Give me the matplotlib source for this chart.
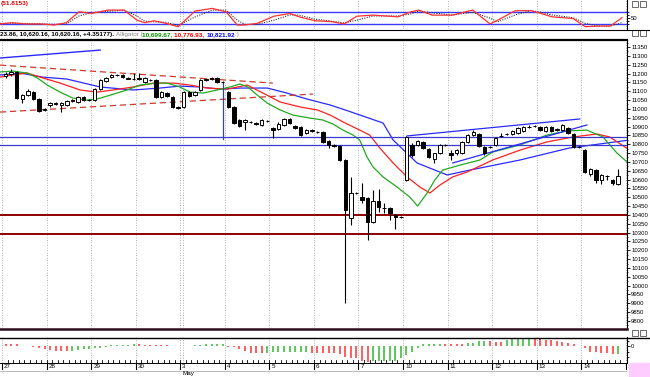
import matplotlib.pyplot as plt
from matplotlib.patches import Rectangle

W, H = 650, 377

# ---- hourly bars, 8 per session ----
opens = [11186, 11197, 11209, 11056, 11078, 11095, 11056, 10994, 11022, 11028,
         11022, 11022, 11045, 11039, 11067, 11050, 11050, 11112, 11158, 11180,
         11192, 11192, 11175, 11169, 11175, 11152, 11163, 11163, 11067, 11090,
         11067, 11011, 11011, 11095, 11078, 11107, 11163, 11175, 11175, 11152,
         11095, 11011, 10937, 10926, 10926, 10920, 10909, 10931, 10892, 10886,
         10909, 10943, 10903, 10897, 10863, 10875, 10869, 10869, 10818, 10796,
         10790, 10711, 10383, 10524, 10501, 10496, 10360, 10479, 10439, 10439,
         10400, 10388, 10598, 10796, 10796, 10813, 10773, 10716, 10750, 10796,
         10750, 10750, 10750, 10813, 10852, 10858, 10784, 10784, 10796, 10847,
         10858, 10858, 10863, 10875, 10897, 10903, 10897, 10875, 10897, 10880,
         10880, 10892, 10858, 10784, 10767, 10632, 10654, 10598, 10620, 10598,
         10575]
highs = [11209, 11226, 11214, 11084, 11112, 11101, 11061, 11005, 11039, 11039,
         11039, 11050, 11056, 11073, 11073, 11056, 11118, 11169, 11180, 11197,
         11197, 11197, 11180, 11203, 11203, 11180, 11169, 11169, 11101, 11095,
         11073, 11016, 11101, 11101, 11101, 11169, 11175, 11180, 11180, 11158,
         11101, 11016, 10943, 10943, 10931, 10926, 10943, 10937, 10897, 10926,
         10948, 10948, 10909, 10903, 10886, 10886, 10875, 10875, 10824, 10801,
         10796, 10716, 10615, 10530, 10581, 10501, 10541, 10547, 10467, 10445,
         10405, 10394, 10847, 10807, 10824, 10818, 10779, 10750, 10801, 10801,
         10767, 10773, 10818, 10858, 10880, 10863, 10790, 10790, 10841, 10863,
         10863, 10880, 10897, 10903, 10909, 10909, 10903, 10903, 10903, 10892,
         10914, 10897, 10863, 10790, 10773, 10665, 10660, 10630, 10626, 10604,
         10660]
lows = [11175, 11186, 11056, 11033, 11073, 11050, 10982, 10988, 11011, 11022,
        10982, 11016, 11039, 11033, 11045, 11045, 11045, 11107, 11152, 11175,
        11186, 11175, 11169, 11163, 11163, 11146, 11158, 11061, 11061, 11067,
        11005, 10999, 11005, 11067, 11073, 11101, 11158, 11163, 11146, 11146,
        11005, 10914, 10897, 10880, 10920, 10909, 10903, 10926, 10835, 10880,
        10903, 10914, 10886, 10847, 10858, 10869, 10863, 10807, 10779, 10784,
        10705, 9902, 10343, 10518, 10467, 10258, 10354, 10417, 10411, 10371,
        10320, 10383, 10592, 10728, 10790, 10773, 10722, 10694, 10745, 10790,
        10711, 10739, 10745, 10807, 10847, 10784, 10739, 10779, 10790, 10841,
        10852, 10852, 10858, 10869, 10892, 10897, 10875, 10869, 10869, 10875,
        10875, 10858, 10779, 10779, 10637, 10620, 10580, 10575, 10598, 10570,
        10569]
closes = [11197, 11209, 11061, 11078, 11101, 11056, 10988, 10999, 11033, 11033,
          11033, 11045, 11050, 11067, 11050, 11048, 11112, 11163, 11175, 11192,
          11190, 11180, 11172, 11169, 11169, 11175, 11163, 11067, 11095, 11073,
          11011, 11005, 11095, 11073, 11095, 11163, 11169, 11169, 11152, 11150,
          11011, 10920, 10903, 10937, 10926, 10914, 10937, 10931, 10880, 10914,
          10943, 10920, 10892, 10852, 10880, 10880, 10869, 10813, 10796, 10790,
          10711, 10428, 10524, 10524, 10484, 10360, 10479, 10445, 10439, 10411,
          10388, 10388, 10841, 10739, 10818, 10779, 10728, 10750, 10796, 10796,
          10739, 10767, 10813, 10852, 10869, 10790, 10750, 10784, 10835, 10847,
          10858, 10875, 10892, 10897, 10897, 10903, 10880, 10897, 10875, 10886,
          10909, 10863, 10784, 10784, 10643, 10660, 10598, 10626, 10620, 10581,
          10620]

day_labels = ['27', '28', '29', '30', '3', '4', '5', '6', '7', '10', '11', '12', '13', '14', '17']
BARS_PER_DAY = 8

# ---- alligator (bar index, price) ----
lips_x = [-1, 1.3, 3.9, 5.7, 7.5, 9.8, 12.1, 14.6, 16.4, 18.8, 21.8, 24.1, 27.2, 29, 31.3, 33.1,
          35.5, 38, 40.3, 42.1, 43.5, 45.2, 47, 49.3, 51.6, 54.7, 57, 58.8, 60.6, 62.4, 63.6,
          64.9, 66, 67.8, 70.3, 72.6, 74, 75.7, 77.1, 78.5, 81.6, 85.2, 87.5, 92.4, 97.2,
          100.8, 104.4, 107.3, 109.8, 111.6]
lips_y = [11209, 11214, 11203, 11175, 11135, 11095, 11061, 11050, 11056, 11078, 11107, 11135,
          11146, 11146, 11124, 11095, 11090, 11107, 11124, 11141, 11124, 11078, 11033, 10994,
          10965, 10948, 10937, 10914, 10880, 10852, 10824, 10728, 10671, 10615, 10558, 10501,
          10450, 10524, 10598, 10654, 10682, 10711, 10756, 10796, 10852, 10875, 10880, 10841,
          10750, 10699.67]
teeth_x = [-1, 1.3, 3.9, 6.2, 9.8, 13.4, 16.4, 19.3, 22.9, 26.5, 30.1, 33.1, 36.2, 39.8, 43.4,
           46.2, 49.3, 52.9, 56, 58.3, 61, 63.6, 65.4, 67.2, 69.6, 72.1, 74.4, 76.2, 78, 80.3,
           82.9, 87.5, 92.4, 97.2, 101.9, 106.2, 108.5, 111.6]
teeth_y = [11180, 11192, 11203, 11180, 11146, 11107, 11095, 11107, 11124, 11146, 11146, 11135,
           11118, 11112, 11135, 11090, 11039, 11011, 10994, 10965, 10920, 10880, 10852, 10779,
           10694, 10615, 10558, 10524, 10569, 10615, 10643, 10711, 10767, 10813, 10841, 10858,
           10841, 10776.93]
jaw_x = [-1, 2.6, 6.7, 11, 17, 22.9, 27.7, 31.3, 34.9, 38.5, 42.1, 47, 50.5, 54.1, 58.3, 61,
         67.8, 69.6, 73.9, 79.3, 83.4, 92.4, 101.3, 111.6]
jaw_y = [11192, 11203, 11180, 11169, 11124, 11107, 11118, 11129, 11124, 11112, 11118, 11118,
         11090, 11056, 11022, 10994, 10920, 10824, 10694, 10626, 10654, 10711, 10779, 10821.92]

# ---- stochastic (top pane) ----
stoch_x = [-1, 1.2, 3.5, 6.4, 8.7, 10.9, 13.2, 15.4, 18.4, 21.3, 23.6, 25, 26.7, 28.8, 31, 34,
           37.1, 39.6, 41.6, 43, 45.2, 48.2, 51.1, 52.7, 55.6, 58.6, 60.8, 63.1, 66, 70.5, 72.8,
           74.2, 76.6, 80.2, 83.9, 87, 88.4, 91.5, 94.3, 95.8, 98.1, 101.9, 104.1, 106.4, 108.6, 110.7]
stoch_k = [22, 28, 22, 22, 17, 28, 80, 72, 88, 88, 40, 28, 37, 25, 9, 83, 96, 80, 17, 17, 25, 59,
           72, 56, 37, 33, 22, 59, 64, 56, 80, 88, 64, 64, 88, 22, 40, 85, 85, 75, 56, 48, 9, 12,
           12, 52]
stoch_d = [25, 25, 24, 22, 20, 22, 60, 76, 82, 88, 60, 35, 32, 30, 15, 55, 88, 88, 40, 20, 20, 40,
           65, 64, 45, 35, 27, 40, 60, 60, 70, 84, 75, 64, 78, 50, 32, 65, 85, 80, 65, 52, 25, 12,
           12, 28]

# ---- oscillator histogram (bottom pane) ----
osc = [30, 30, 30, 8, 8, -15, -30, -45, -52, -60,
       -60, -68, -60, -52, -45, -38, -30, -22, -15, 15,
       15, 22, 22, 30, 30, 27, 22, 22, 18, 15,
       12, 8, 5, 8, 15, 22, 30, 30, 33, 35,
       -8, -15, -45, -60, -98, -100, -102, -99, -87, -85,
       -84, -82, -81, -80, -78, -90, -95, -98, -100, -102,
       -105, -150, -165, -175, -210, -235, -218, -216, -214, -213,
       -210, -175, -125, -75, -30, 40, 38, 38, 40, 38,
       37, 36, 35, 45, 48, 75, 78, 75, 72, 68,
       100, 105, 110, 112, 125, 110, 105, 100, 90, 75,
       60, 50, 40, 0, -22, -75, -75, -90, -98, -105,
       -105]
osc_col = ("rrrrrrrrrrrr" "gggggggggggg" "rrrrrrrrr" "ggggggg" "rrrrrrr" "gggggggg"
           "rrrrrrrrrrr" "ggggggggggggg" "rrrr" "gggg" "rrr" "ggggg" "rrrrrrrrrrrrrrr" "g")

# ---- drawn objects ----
support_levels = [10400, 10292]
blue_levels = [10841, 10796]

plt.rcParams['font.family'] = ['Liberation Sans', 'DejaVu Sans']
fig = plt.figure(figsize=(W / 100, H / 100), dpi=100)


def box(x0, y0, x1, y1):
    return fig.add_axes([x0 / W, 1 - y1 / H, (x1 - x0) / W, (y1 - y0) / H])


XL = (-1.0, 111.6)
seps = [k * BARS_PER_DAY - 0.62 for k in range(len(day_labels))]
GRID = dict(color='#9a9a9a', lw=0.6, ls=(0, (1, 2)), zorder=0)


def base(ax):
    ax.set_xlim(XL)
    for s in ['top', 'left', 'bottom']:
        ax.spines[s].set_visible(False)
    ax.spines['right'].set_linewidth(0.8)
    ax.yaxis.tick_right()
    ax.set_xticks([])
    ax.tick_params(axis='y', labelsize=4.3, length=2, width=0.6, pad=1)
    for s in seps + [31.9]:
        ax.axvline(s, **GRID)


# top pane: stochastic
ax_s = box(0, 0, 627, 29)
base(ax_s)
ax_s.set_ylim(-2, 136)
ax_s.set_yticks([50])
ax_s.set_yticks([20, 35, 65, 80], minor=True)
ax_s.tick_params(axis='y', which='minor', length=1.5, width=0.6)
for lvl in (80, 20):
    ax_s.axhline(lvl, color='#3a3aff', lw=1.0, zorder=1)
ax_s.plot(stoch_x, stoch_d, color='#333333', lw=0.8, ls=(0, (1, 1.2)), zorder=2)
ax_s.plot(stoch_x, stoch_k, color='#ff3030', lw=0.9, zorder=3)

# main pane
ax = box(0, 40, 627, 328)
base(ax)
ax.set_ylim(9760, 11390)
ticks = list(range(9800, 11351, 50))
ax.set_yticks(ticks)
ax.set_yticklabels([str(t) for t in ticks])
ax.set_yticks(list(range(9775, 11376, 50)), minor=True)
ax.tick_params(axis='y', which='minor', length=1, width=0.5)

ax.plot(jaw_x, jaw_y, color='#2a2aff', lw=0.9, zorder=2)
ax.plot(teeth_x, teeth_y, color='#ff2020', lw=0.9, zorder=2)
ax.plot(lips_x, lips_y, color='#22aa22', lw=0.9, zorder=2)

for lvl in blue_levels:
    ax.axhline(lvl, color='#3b3bd0', lw=0.9, zorder=2)
for lvl in support_levels:
    ax.axhline(lvl, color='#8b0000', lw=1.4, zorder=2)

# trend lines
ax.plot([-1, 17], [11288, 11333], color='#2a2aff', lw=1.0, zorder=2)
ax.plot([-1, 48], [11248, 11146], color='#cc3b2b', lw=0.9, ls=(0, (5, 3)), zorder=2)
ax.plot([-1, 55.2], [10982, 11084], color='#cc3b2b', lw=0.9, ls=(0, (5, 3)), zorder=2)
ax.plot([39.05, 39.05], [11146, 10830], color='#3344aa', lw=0.9, zorder=2)
ax.plot([72.1, 103.1], [10847, 10943], color='#2a2aff', lw=0.9, zorder=2)
ax.plot([80.3, 104.4], [10694, 10909], color='#2a2aff', lw=0.9, zorder=2)

for i, (o, h, l, c) in enumerate(zip(opens, highs, lows, closes)):
    ax.vlines(i, l, h, color='black', lw=0.8, zorder=3)
    face = 'white' if c > o else 'black'
    ax.bar(i, max(abs(c - o), 1), 0.62, min(o, c), color=face,
           edgecolor='black', lw=0.7, zorder=4)

# bottom pane: oscillator
ax_o = box(0, 337, 627, 363)
base(ax_o)
ax_o.set_ylim(-245, 140)
ax_o.set_yticks([0])
ax_o.set_yticks([-150, -75, 75], minor=True)
ax_o.tick_params(axis='y', which='minor', length=1.5, width=0.6)
cmap = {'r': '#ff3030', 'g': '#2fb82f'}
for i, v in enumerate(osc):
    ax_o.vlines(i, 0, v, color=cmap[osc_col[i]], lw=1.1, zorder=2)

# x axis strip
ax_x = box(0, 363, 627, 377)
ax_x.set_xlim(XL)
ax_x.set_ylim(14, 0)
ax_x.axis('off')
ax_x.axhline(0, color='black', lw=1.4)
ax_x.axhline(7.5, color='#b0b0b0', lw=0.6)
for i in range(len(opens)):
    ax_x.plot([i + 0.38, i + 0.38], [0, -3], color='black', lw=0.6, clip_on=False)
for s, lab in zip(seps, day_labels):
    ax_x.plot([s, s], [0, 6], color='black', lw=0.8)
    ax_x.text(s + 0.35, 3.8, lab, fontsize=4.5, va='center', ha='left')
ax_x.text(seps[4] + 0.35, 10.5, 'May', fontsize=4.5, va='center', ha='left')

# separators and headers
fig.add_artist(plt.Line2D([0, 1], [1 - 29.5 / H] * 2, color='black', lw=0.8))
fig.add_artist(plt.Line2D([0, 627 / W], [1 - 40 / H] * 2, color='black', lw=1.6))
fig.add_artist(plt.Line2D([0, 627 / W], [1 - 329 / H] * 2, color='#2a0a1a', lw=1.8))
fig.add_artist(plt.Line2D([0, 1], [1 - 337.5 / H] * 2, color='black', lw=1.0))

fig.text(0.5 / W, 1 - 4 / H, '(51.8153)', color='#e00000', fontsize=4.6,
         fontweight='bold', va='center')

renderer = fig.canvas.get_renderer()
pieces = [('23.86, 10,620.16, 10,620.16, +4.35177). ', 'black', 'bold'),
          ('Alligator (', '#888888', 'normal'),
          ('10,699.67, ', '#009900', 'bold'),
          ('10,776.93, ', '#ee0000', 'bold'),
          ('10,821.92', '#0000ee', 'bold'),
          (' )', '#888888', 'normal')]
xpos = 0.0
for txt, col, wt in pieces:
    t = fig.text(xpos / W, 1 - 34.5 / H, txt, color=col, fontsize=4.6,
                 fontweight=wt, va='center', ha='left')
    xpos += t.get_window_extent(renderer).width

for yb in (1, 30, 330):
    for xb in (632, 640):
        fig.add_artist(Rectangle((xb / W, 1 - (yb + 6) / H), 6 / W, 6 / H,
                                 transform=fig.transFigure, fill=False,
                                 edgecolor='#555555', lw=0.6))

fig.add_artist(Rectangle((629 / W, 0), 21 / W, 14 / H, transform=fig.transFigure,
                         color='#ffccff', zorder=10))

fig.savefig('out.png', dpi=100)
